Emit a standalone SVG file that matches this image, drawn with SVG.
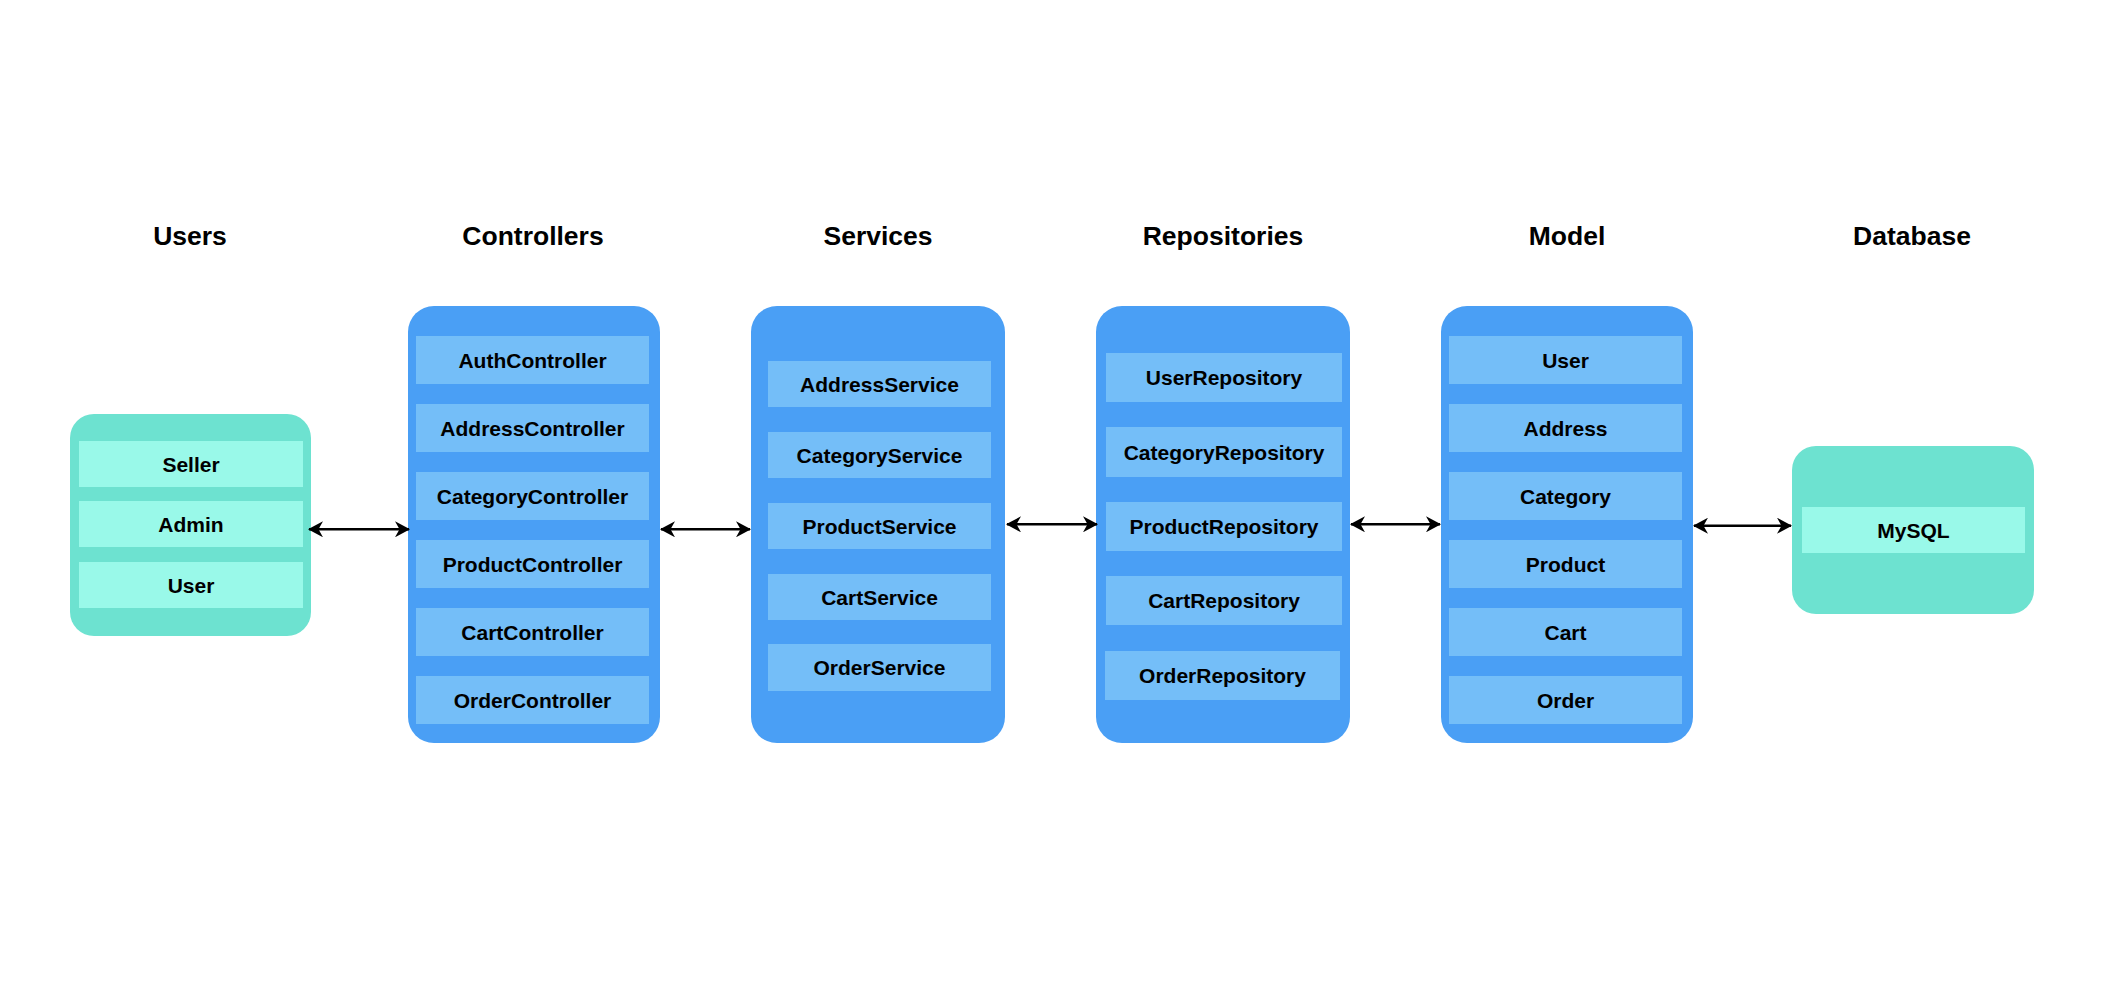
<svg xmlns="http://www.w3.org/2000/svg" width="2116" height="988" viewBox="0 0 2116 988">
<style>
.title{font-family:"Liberation Sans",Arial,sans-serif;font-weight:bold;font-size:26.5px;fill:#000;text-anchor:middle}
.lbl{font-family:"Liberation Sans",Arial,sans-serif;font-weight:bold;font-size:21px;fill:#000;text-anchor:middle}
.blue{fill:#4A9FF5}
.bitem{fill:#74BEF8}
.teal{fill:#6DE2D0}
.titem{fill:#99F9E9}
.conn{stroke:#000;stroke-width:2.6;fill:none;marker-start:url(#ah);marker-end:url(#ah)}
</style>
<defs>
<marker id="ah" viewBox="0 0 15 16" refX="14" refY="8" markerWidth="15" markerHeight="16" markerUnits="userSpaceOnUse" orient="auto-start-reverse">
<path d="M0,0 L15,8 L0,16 L4.5,8 Z" fill="#000"/>
</marker>
</defs>
<rect width="2116" height="988" fill="#fff"/>
<g id="titles">
<text class="title" x="190" y="245">Users</text>
<text class="title" x="533" y="245">Controllers</text>
<text class="title" x="878" y="245">Services</text>
<text class="title" x="1223" y="245">Repositories</text>
<text class="title" x="1567" y="245">Model</text>
<text class="title" x="1912" y="245">Database</text>
</g>
<g id="users">
<rect class="teal" x="70" y="414" width="241" height="222" rx="24"/>
<rect class="titem" x="79" y="441" width="224" height="46"/>
<text class="lbl" x="191" y="472">Seller</text>
<rect class="titem" x="79" y="501" width="224" height="46"/>
<text class="lbl" x="191" y="532">Admin</text>
<rect class="titem" x="79" y="562" width="224" height="46"/>
<text class="lbl" x="191" y="593">User</text>
</g>
<g id="controllers">
<rect class="blue" x="408" y="306" width="252" height="437" rx="26"/>
<rect class="bitem" x="416" y="336" width="233" height="48"/>
<text class="lbl" x="532.5" y="367.5">AuthController</text>
<rect class="bitem" x="416" y="404" width="233" height="48"/>
<text class="lbl" x="532.5" y="435.5">AddressController</text>
<rect class="bitem" x="416" y="472" width="233" height="48"/>
<text class="lbl" x="532.5" y="503.5">CategoryController</text>
<rect class="bitem" x="416" y="540" width="233" height="48"/>
<text class="lbl" x="532.5" y="571.5">ProductController</text>
<rect class="bitem" x="416" y="608" width="233" height="48"/>
<text class="lbl" x="532.5" y="639.5">CartController</text>
<rect class="bitem" x="416" y="676" width="233" height="48"/>
<text class="lbl" x="532.5" y="707.5">OrderController</text>
</g>
<g id="services">
<rect class="blue" x="751" y="306" width="254" height="437" rx="26"/>
<rect class="bitem" x="768" y="361" width="223" height="46"/>
<text class="lbl" x="879.5" y="391.5">AddressService</text>
<rect class="bitem" x="768" y="432" width="223" height="46"/>
<text class="lbl" x="879.5" y="462.5">CategoryService</text>
<rect class="bitem" x="768" y="503" width="223" height="46"/>
<text class="lbl" x="879.5" y="533.5">ProductService</text>
<rect class="bitem" x="768" y="574" width="223" height="46"/>
<text class="lbl" x="879.5" y="604.5">CartService</text>
<rect class="bitem" x="768" y="644" width="223" height="47"/>
<text class="lbl" x="879.5" y="675">OrderService</text>
</g>
<g id="repositories">
<rect class="blue" x="1096" y="306" width="254" height="437" rx="26"/>
<rect class="bitem" x="1106" y="353" width="236" height="49"/>
<text class="lbl" x="1224" y="385">UserRepository</text>
<rect class="bitem" x="1106" y="427" width="236" height="50"/>
<text class="lbl" x="1224" y="459.5">CategoryRepository</text>
<rect class="bitem" x="1106" y="502" width="236" height="49"/>
<text class="lbl" x="1224" y="534">ProductRepository</text>
<rect class="bitem" x="1106" y="576" width="236" height="49"/>
<text class="lbl" x="1224" y="608">CartRepository</text>
<rect class="bitem" x="1105" y="651" width="235" height="49"/>
<text class="lbl" x="1222.5" y="683">OrderRepository</text>
</g>
<g id="model">
<rect class="blue" x="1441" y="306" width="252" height="437" rx="26"/>
<rect class="bitem" x="1449" y="336" width="233" height="48"/>
<text class="lbl" x="1565.5" y="367.5">User</text>
<rect class="bitem" x="1449" y="404" width="233" height="48"/>
<text class="lbl" x="1565.5" y="435.5">Address</text>
<rect class="bitem" x="1449" y="472" width="233" height="48"/>
<text class="lbl" x="1565.5" y="503.5">Category</text>
<rect class="bitem" x="1449" y="540" width="233" height="48"/>
<text class="lbl" x="1565.5" y="571.5">Product</text>
<rect class="bitem" x="1449" y="608" width="233" height="48"/>
<text class="lbl" x="1565.5" y="639.5">Cart</text>
<rect class="bitem" x="1449" y="676" width="233" height="48"/>
<text class="lbl" x="1565.5" y="707.5">Order</text>
</g>
<g id="database">
<rect class="teal" x="1792" y="446" width="242" height="168" rx="24"/>
<rect class="titem" x="1802" y="507" width="223" height="46"/>
<text class="lbl" x="1913.5" y="537.5">MySQL</text>
</g>
<g id="connectors">
<line class="conn" x1="309" y1="529.3" x2="409" y2="529.3"/>
<line class="conn" x1="661" y1="529.3" x2="750" y2="529.3"/>
<line class="conn" x1="1007" y1="524.3" x2="1097" y2="524.3"/>
<line class="conn" x1="1351" y1="524.3" x2="1440" y2="524.3"/>
<line class="conn" x1="1694" y1="525.7" x2="1791" y2="525.7"/>
</g>
</svg>
